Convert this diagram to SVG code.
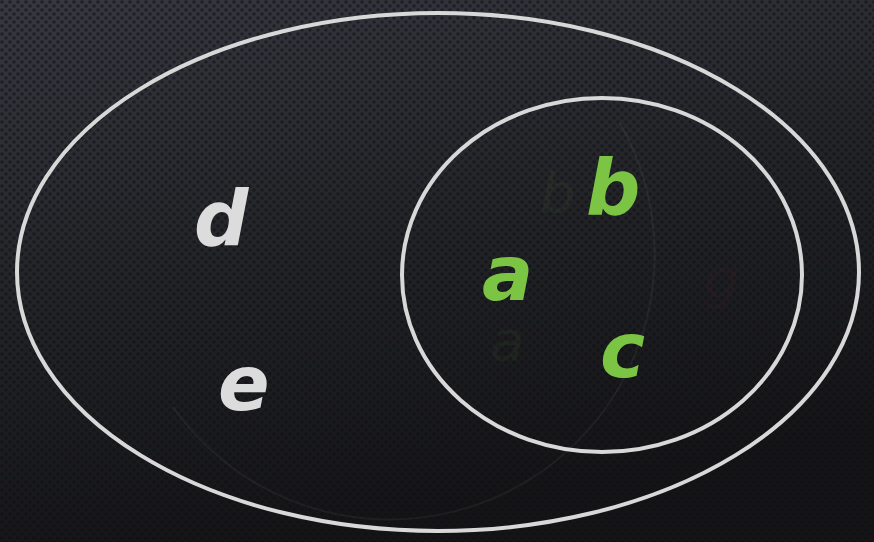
<svg xmlns="http://www.w3.org/2000/svg" width="874" height="542" viewBox="0 0 874 542">
<defs>
<linearGradient id="bg" x1="0" y1="0" x2="0.3" y2="1">
<stop offset="0" stop-color="#373840"/>
<stop offset="0.5" stop-color="#232428"/>
<stop offset="1" stop-color="#141416"/>
</linearGradient>
<pattern id="dots" width="8" height="8" patternUnits="userSpaceOnUse">
<circle cx="2" cy="2" r="1.8" fill="#0d0e12" fill-opacity="0.55"/>
<circle cx="6" cy="6" r="1.8" fill="#0d0e12" fill-opacity="0.55"/>
</pattern>
<style>
.set{fill:none;stroke:#d8d8d8;stroke-width:4}
.lt{font-family:"DejaVu Sans","Liberation Sans",sans-serif;font-style:italic;font-weight:bold;font-size:76px}
.gh{font-family:"DejaVu Sans","Liberation Sans",sans-serif;font-style:italic;font-size:56px;opacity:0.05}
.w{fill:#dcdcdc}
.g{fill:#7cc544}
</style>
</defs>
<rect width="874" height="542" fill="url(#bg)"/>
<rect width="874" height="542" fill="url(#dots)"/>
<path d="M 619.5 122.5 A 265 265 0 0 1 173 407" fill="none" stroke="#8a8a8a" stroke-width="2" opacity="0.1"/>
<g id="ghosts">
<text class="gh" x="540" y="212" fill="#7cc544">b</text>
<text class="gh" x="490" y="360" fill="#7cc544" font-size="42">a</text>
<text class="gh" x="704" y="298" fill="#a02030" opacity="0.09">g</text>
</g>
<g id="setU"><ellipse class="set" cx="438" cy="272" rx="421" ry="259"/></g>
<g id="setA"><ellipse class="set" cx="602" cy="275" rx="200" ry="177"/></g>
<g id="d"><text class="lt w" x="194" y="245">d</text></g>
<g id="e"><text class="lt w" x="218" y="410">e</text></g>
<g id="a"><text class="lt g" x="482" y="300">a</text></g>
<g id="b"><text class="lt g" x="586" y="214">b</text></g>
<g id="c"><text class="lt g" x="600" y="377">c</text></g>
</svg>
